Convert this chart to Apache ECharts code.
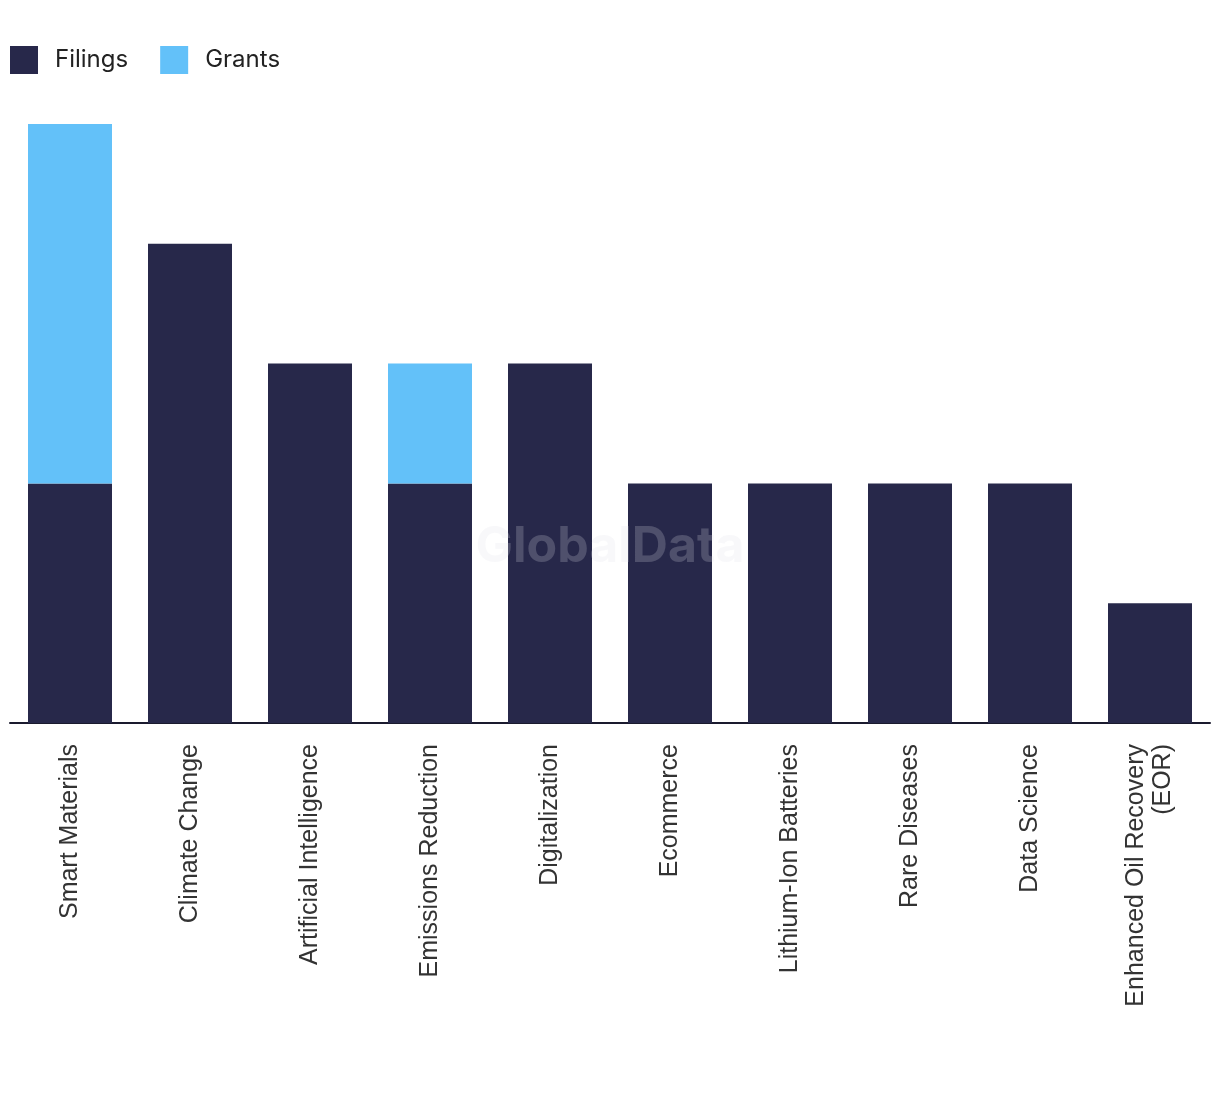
<!DOCTYPE html>
<html>
<head>
<meta charset="utf-8">
<script src="https://cdn.jsdelivr.net/npm/echarts@6/dist/echarts.min.js"></script>
<style>
html,body{margin:0;padding:0;background:#fff;}
#chart{width:1220px;height:1094px;}
</style>
</head>
<body>
<div id="chart"></div>
<script>
const categories = ["Smart Materials","Climate Change","Artificial Intelligence","Emissions Reduction","Digitalization","Ecommerce","Lithium-Ion Batteries","Rare Diseases","Data Science","Enhanced Oil Recovery\n(EOR)"];
const filings = [2,4,3,2,3,2,2,2,2,1];
const grants = [3,0,0,1,0,0,0,0,0,0];

const chart = echarts.init(document.getElementById('chart'));
chart.setOption({
  animation:false,
  backgroundColor:'#fff',
  legend:{
    left:5, top:41,
    itemWidth:28, itemHeight:28, itemGap:32,
    icon:'rect',
    textStyle:{fontSize:24, color:'#222', fontFamily:'Inter, "Noto Sans", sans-serif', padding:[0,0,0,12]},
    data:['Filings','Grants']
  },
  graphic:[{
    type:'text', left:'center', top:522, z:100, silent:true,
    style:{text:'GlobalData', fontSize:50, fontWeight:'bold', fontFamily:'Inter, "Liberation Sans", sans-serif', fill:'rgba(225,225,232,0.22)'}
  }],
  grid:{left:10, right:10, top:124, bottom:371, containLabel:false},
  xAxis:{
    type:'category', data:categories,
    axisLine:{lineStyle:{color:'#1a1a2e', width:2}},
    axisTick:{show:false},
    axisLabel:{rotate:90, interval:0, margin:21, fontSize:25, color:'#333', fontFamily:'"Liberation Sans", Arial, sans-serif', lineHeight:27}
  },
  yAxis:{type:'value', min:0, max:5, show:false, splitLine:{show:false}},
  series:[
    {name:'Filings', type:'bar', stack:'a', data:filings, barWidth:'70%', itemStyle:{color:'#27284a'}},
    {name:'Grants', type:'bar', stack:'a', data:grants, barWidth:'70%', itemStyle:{color:'#63c1f9'}}
  ]
});
</script>
</body>
</html>
